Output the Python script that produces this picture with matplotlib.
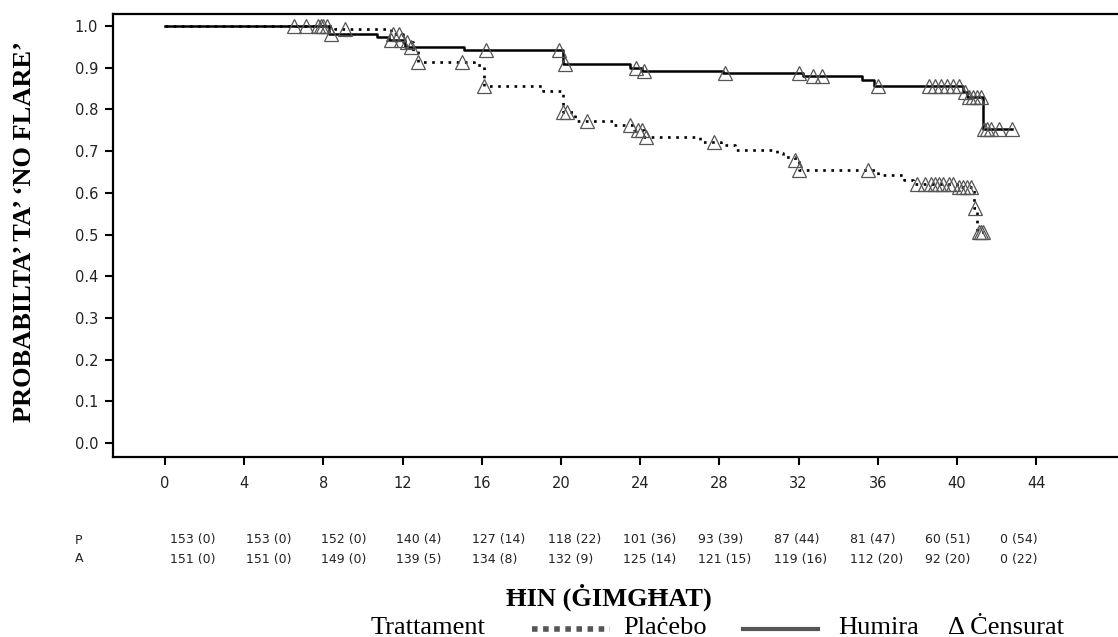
import numpy as np
import matplotlib
matplotlib.use('Agg')
import matplotlib.pyplot as plt
from matplotlib.lines import Line2D

# Kaplan-Meier steps (week, survival after the drop)
humira_t = [0, 8.3, 10.7, 11.3, 12.1, 15.1, 20.1, 23.5, 24.1, 28.2, 32.2,
            35.2, 35.8, 40.3, 40.5, 41.3, 42.8]
humira_s = [1.0, 0.980, 0.973, 0.966, 0.950, 0.942, 0.908, 0.900, 0.892,
            0.887, 0.880, 0.871, 0.856, 0.842, 0.829, 0.753, 0.753]
humira_cens = [7.9, 8.2, 8.4, 11.4, 11.9, 12.4, 16.2, 19.9, 20.2, 23.8,
               24.2, 28.3, 32.0, 32.7, 33.2, 36.0, 38.6, 38.9, 39.2, 39.5,
               39.8, 40.1, 40.4, 40.6, 40.8, 41.0, 41.2, 41.35, 41.5, 41.7,
               42.1, 42.8]

placebo_t = [0, 8.6, 11.4, 12.0, 12.5, 12.8, 15.6, 16.1, 19.1, 20.1, 20.7,
             22.6, 23.7, 24.2, 27.0, 28.1, 28.8, 30.9, 31.2, 31.8, 32.0,
             36.0, 37.3, 37.8, 40.0, 40.85, 41.0, 41.3]
placebo_s = [1.0, 0.993, 0.980, 0.962, 0.940, 0.915, 0.907, 0.857, 0.845,
             0.794, 0.773, 0.763, 0.751, 0.735, 0.723, 0.714, 0.703, 0.695,
             0.687, 0.679, 0.656, 0.642, 0.631, 0.622, 0.613, 0.563, 0.506,
             0.506]
placebo_cens = [6.5, 7.1, 7.7, 8.0, 9.1, 11.5, 11.8, 12.2, 12.8, 15.0, 16.1,
                20.1, 20.3, 21.3, 23.5, 23.9, 24.1, 24.3, 27.7, 31.8, 32.0,
                35.5, 38.0, 38.4, 38.7, 38.9, 39.1, 39.3, 39.6, 39.8, 40.1,
                40.3, 40.5, 40.7, 40.9, 41.1, 41.2, 41.3]

# number at risk (censored) under the axis
risk_rows = ['P', 'A']
placebo_risk = [153, 153, 152, 140, 127, 118, 101, 93, 87, 81, 60, 0]
placebo_risk_c = [0, 0, 0, 4, 14, 22, 36, 39, 44, 47, 51, 54]
humira_risk = [151, 151, 149, 139, 134, 132, 125, 121, 119, 112, 92, 0]
humira_risk_c = [0, 0, 0, 5, 8, 9, 14, 15, 16, 20, 20, 22]

x_ticks = list(range(0, 45, 4))
y_ticks = [round(v * 0.1, 1) for v in range(11)]

SERIF = 'Liberation Serif'
SANS = 'DejaVu Sans'
W, H = 1118, 637


def surv_at(t, times, surv):
    idx = np.searchsorted(times, t, side='right') - 1
    return np.array(surv)[idx]


fig = plt.figure(figsize=(W / 100, H / 100), dpi=100)
ax = fig.add_axes([113 / W, 1 - 457 / H, 1 - 113 / W, (457 - 14) / H])

ax.step(placebo_t, placebo_s, where='post', color='black', lw=1.9,
        linestyle=(0, (1, 2.1)))
ax.step(humira_t, humira_s, where='post', color='black', lw=1.8)

for cens, times, surv in [(placebo_cens, placebo_t, placebo_s),
                          (humira_cens, humira_t, humira_s)]:
    ax.plot(cens, surv_at(cens, times, surv), linestyle='none', marker='^',
            markersize=9.5, mfc='none', mec='#555555', mew=0.9)

ax.set_xlim(-2.63, 48.13)
ax.set_ylim(-0.0336, 1.029)
ax.set_xticks(x_ticks)
ax.set_yticks(y_ticks)
ax.set_yticklabels([f'{v:.1f}' for v in y_ticks])
ax.spines['right'].set_visible(False)
for s in ['left', 'bottom', 'top']:
    ax.spines[s].set_linewidth(1.6)
ax.tick_params(axis='both', direction='out', width=1.5, length=5.8,
               labelsize=10.5, labelcolor='#222222')
ax.tick_params(axis='x', pad=8)
ax.tick_params(axis='y', pad=5)
for lab in ax.get_xticklabels() + ax.get_yticklabels():
    lab.set_fontfamily(SANS)

# y label
fig.text(25 / W, 1 - 232 / H, 'PROBABILTA’ TA’ ‘NO FLARE’', rotation=90,
         ha='center', va='center', family=SERIF, fontweight='bold',
         fontsize=19)

# number at risk table
for r, (name, n, c) in enumerate(zip(risk_rows,
                                     [placebo_risk, humira_risk],
                                     [placebo_risk_c, humira_risk_c])):
    yy = 1 - (540 + 19 * r) / H
    fig.text(75 / W, yy, name, ha='left', va='center', family=SANS,
             fontsize=9, color='#222222')
    for i, (a, b) in enumerate(zip(n, c)):
        fig.text((170 + 75.5 * i) / W, yy, f'{a} ({b})', ha='left',
                 va='center', family=SANS, fontsize=9, color='#222222')

# x label
fig.text(609 / W, 1 - 606 / H, 'ĦIN (ĠIMGĦAT)', ha='center', va='baseline',
         family=SERIF, fontweight='bold', fontsize=19)

# legend row
base = 1 - 634 / H
fig.text(371 / W, base, 'Trattament', ha='left', va='baseline', family=SERIF,
         fontsize=19)
fig.add_artist(Line2D([532 / W, 610 / W], [1 - 629 / H, 1 - 629 / H],
                      transform=fig.transFigure, color='#555555', lw=4,
                      linestyle=(0, (1, 1))))
fig.text(623 / W, base, 'Plaċebo', ha='left', va='baseline', family=SERIF,
         fontsize=19)
fig.add_artist(Line2D([743 / W, 818 / W], [1 - 629 / H, 1 - 629 / H],
                      transform=fig.transFigure, color='#555555', lw=3))
fig.text(838 / W, base, 'Humira', ha='left', va='baseline', family=SERIF,
         fontsize=19)
fig.text(948 / W, base, 'Δ Ċensurat', ha='left', va='baseline', family=SERIF,
         fontsize=19)

fig.savefig('out.png', dpi=100)
